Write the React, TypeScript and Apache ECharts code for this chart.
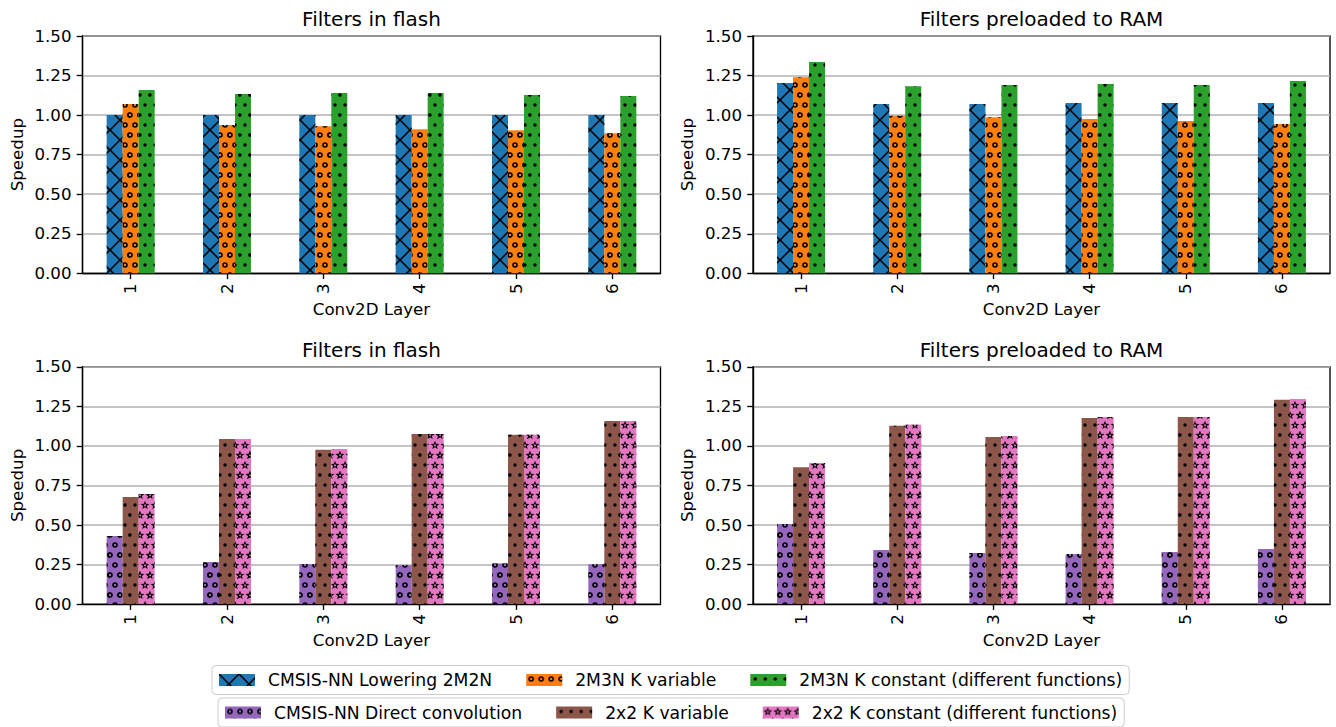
import React, { useEffect, useRef } from "react";
import * as echarts from "echarts";

// ---------- data ----------
const categories = ["1", "2", "3", "4", "5", "6"];

const topNames = [
  "CMSIS-NN Lowering 2M2N",
  "2M3N K variable",
  "2M3N K constant (different functions)",
];
const bottomNames = [
  "CMSIS-NN Direct convolution",
  "2x2 K variable",
  "2x2 K constant (different functions)",
];
const panelTitles = [
  "Filters in flash",
  "Filters preloaded to RAM",
  "Filters in flash",
  "Filters preloaded to RAM",
];

// top-left: filters in flash
const flashLowering = [1.0, 1.0, 1.0, 1.0, 1.0, 1.0];
const flash2M3NVar = [1.07, 0.937, 0.93, 0.91, 0.905, 0.886];
const flash2M3NConst = [1.158, 1.133, 1.14, 1.14, 1.127, 1.12];

// top-right: filters preloaded to RAM
const ramLowering = [1.203, 1.07, 1.07, 1.076, 1.076, 1.076];
const ram2M3NVar = [1.24, 0.996, 0.987, 0.975, 0.962, 0.943];
const ram2M3NConst = [1.335, 1.183, 1.19, 1.196, 1.19, 1.215];

// bottom-left: filters in flash
const flashDirect = [0.43, 0.266, 0.253, 0.246, 0.257, 0.252];
const flash2x2Var = [0.677, 1.044, 0.975, 1.076, 1.07, 1.158];
const flash2x2Const = [0.696, 1.044, 0.98, 1.076, 1.07, 1.158];

// bottom-right: filters preloaded to RAM
const ramDirect = [0.506, 0.342, 0.323, 0.316, 0.329, 0.348];
const ram2x2Var = [0.865, 1.127, 1.057, 1.177, 1.183, 1.291];
const ram2x2Const = [0.892, 1.133, 1.063, 1.183, 1.183, 1.297];

const yMin = 0;
const yMax = 1.5;
const yInterval = 0.25;

// ---------- styles ----------
const FONT = "DejaVu Sans";
const colors = ["#1f77b4", "#ff7f0e", "#2ca02c", "#9467bd", "#8c564b", "#e377c2"];

// staggered hatch lattice (spacing S), one tile = S x 2S
const S = 10;
const f = (n: number) => n.toFixed(3);
function circlePath(cx: number, cy: number, r: number, sweep: number) {
  return (
    `M${f(cx)} ${f(cy - r)}A${f(r)} ${f(r)} 0 1 ${sweep} ${f(cx)} ${f(cy + r)}` +
    `A${f(r)} ${f(r)} 0 1 ${sweep} ${f(cx)} ${f(cy - r)}Z`
  );
}
function starPath(cx: number, cy: number, R: number, rin: number, reverse: boolean) {
  const pts: number[][] = [];
  for (let i = 0; i < 10; i++) {
    const a = ((-90 + 36 * i) * Math.PI) / 180;
    const r = i % 2 === 0 ? R : rin;
    pts.push([cx + r * Math.cos(a), cy + r * Math.sin(a)]);
  }
  if (reverse) pts.reverse();
  return "M" + pts.map((p) => `${f(p[0])} ${f(p[1])}`).join("L") + "Z";
}
function staggeredTile(shape: (cx: number, cy: number) => string) {
  // anchors fix the bounding box to [-S/2, 1.5S] x [-S, 3S] so the symbol maps 1:1
  let d = `M${-S / 2} ${-S}L${-S / 2} ${-S}M${1.5 * S} ${3 * S}L${1.5 * S} ${3 * S}`;
  const centers = [
    [S / 2, S / 2],
    [0, 1.5 * S],
    [S, 1.5 * S],
  ];
  centers.forEach(([x, y]) => (d += shape(x, y)));
  return "path://" + d;
}
function staggeredDecal(shape: (cx: number, cy: number) => string) {
  return {
    symbol: staggeredTile(shape),
    symbolSize: 2,
    symbolKeepAspect: false,
    color: "#000",
    dashArrayX: [[S, 0]],
    dashArrayY: [2 * S, 0],
  };
}

const decalCross = {
  symbol:
    "path://M0 0L1.1 0L10 8.9L18.9 0L20 0L20 1.1L11.1 10L20 18.9L20 20L18.9 20L10 11.1L1.1 20L0 20L0 18.9L8.9 10L0 1.1Z",
  symbolSize: 1,
  symbolKeepAspect: false,
  color: "#000",
  dashArrayX: [[20, 0]],
  dashArrayY: [20, 0],
};
const decalRing = staggeredDecal((x, y) => circlePath(x, y, 2.8, 1) + circlePath(x, y, 1.2, 0));
const decalDot = staggeredDecal((x, y) => circlePath(x, y, 1.7, 1));
const decalStar = staggeredDecal(
  (x, y) => starPath(x, y + 0.3, 4.6, 1.95, false) + starPath(x, y + 0.3, 1.9, 0.8, true)
);
const decals = [decalCross, decalRing, decalDot, decalRing, decalDot, decalStar];

const grids = [
  { left: 82.5, top: 36, width: 578, height: 237.3 },
  { left: 753, top: 36, width: 577, height: 237.3 },
  { left: 82.5, top: 366.8, width: 578, height: 237.3 },
  { left: 753, top: 366.8, width: 577, height: 237.3 },
];
const titleTops = [9, 9, 339.5, 339.5];

function buildOption() {
  const panelData = [
    [flashLowering, flash2M3NVar, flash2M3NConst],
    [ramLowering, ram2M3NVar, ram2M3NConst],
    [flashDirect, flash2x2Var, flash2x2Const],
    [ramDirect, ram2x2Var, ram2x2Const],
  ];
  const series: any[] = [];
  panelData.forEach((sets, p) => {
    const bottom = p >= 2;
    sets.forEach((vals, k) => {
      const ci = (bottom ? 3 : 0) + k;
      series.push({
        type: "bar",
        name: (bottom ? bottomNames : topNames)[k],
        data: vals,
        xAxisIndex: p,
        yAxisIndex: p,
        barWidth: 16,
        barGap: "0%",
        itemStyle: { color: colors[ci], decal: decals[ci] },
        emphasis: { disabled: true },
      });
    });
  });

  const xAxis = grids.map((_, i) => ({
    type: "category",
    gridIndex: i,
    data: categories,
    name: "Conv2D Layer",
    nameLocation: "middle",
    nameGap: 28,
    nameTextStyle: { fontSize: 16.67, color: "#000", fontFamily: FONT },
    axisLine: { show: true, lineStyle: { color: "#000", width: 1.33 } },
    axisTick: { show: true, alignWithLabel: true, length: 5.8, lineStyle: { color: "#000", width: 1.33 } },
    axisLabel: { rotate: 90, margin: 10, fontSize: 16.67, color: "#000", fontFamily: FONT },
    splitLine: { show: false },
  }));
  const yAxis = grids.map((_, i) => ({
    type: "value",
    gridIndex: i,
    min: yMin,
    max: yMax,
    interval: yInterval,
    name: "Speedup",
    nameLocation: "middle",
    nameGap: 57,
    nameTextStyle: { fontSize: 16.67, color: "#000", fontFamily: FONT },
    axisLine: { show: true, lineStyle: { color: "#000", width: 1.33 } },
    axisTick: { show: true, length: 5.8, lineStyle: { color: "#000", width: 1.33 } },
    axisLabel: {
      margin: 11,
      fontSize: 16.67,
      color: "#000",
      fontFamily: FONT,
      formatter: (v: number) => v.toFixed(2),
    },
    splitLine: { show: true, lineStyle: { color: "#b0b0b0", width: 1.5 } },
  }));

  const title = grids.map((g, i) => ({
    text: panelTitles[i],
    left: g.left + g.width / 2,
    top: titleTops[i],
    textAlign: "center",
    padding: 0,
    textStyle: { fontSize: 20, fontWeight: "normal", color: "#000", fontFamily: FONT },
  }));

  const legendBase = {
    orient: "horizontal",
    icon: "rect",
    itemWidth: 36,
    itemHeight: 12,
    itemGap: 34,
    padding: [6, 7],
    borderColor: "#cccccc",
    borderWidth: 1,
    borderRadius: 4,
    backgroundColor: "#ffffff",
    selectedMode: false,
    textStyle: { fontSize: 17.2, color: "#000", fontFamily: FONT, padding: [0, 0, 0, 8] },
  };

  return {
    animation: false,
    backgroundColor: "#ffffff",
    textStyle: { fontFamily: FONT },
    title,
    grid: grids.map((g) => ({
      ...g,
      show: true,
      borderColor: "#000",
      borderWidth: 1.33,
      backgroundColor: "transparent",
      containLabel: false,
    })),
    xAxis,
    yAxis,
    legend: [
      { ...legendBase, data: topNames, left: 212, top: 665.5 },
      { ...legendBase, data: bottomNames, left: 218, top: 698 },
    ],
    series,
  };
}

export default function App() {
  const ref = useRef<HTMLDivElement>(null);
  useEffect(() => {
    if (!ref.current) return;
    const chart = echarts.init(ref.current, null, { renderer: "svg" });
    chart.setOption(buildOption() as any);
    return () => chart.dispose();
  }, []);
  return (
    <div
      ref={ref}
      style={{ position: "fixed", left: 0, top: 0, width: 1336, height: 727, background: "#fff" }}
    />
  );
}
